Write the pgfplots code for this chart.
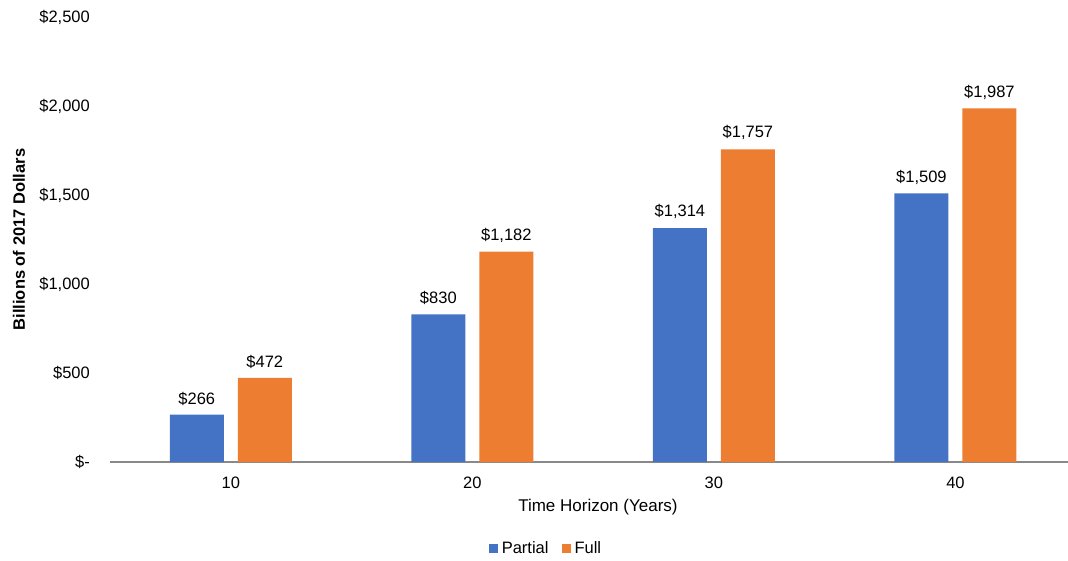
\documentclass[border=0pt]{standalone}
\usepackage{fontspec}
\setmainfont{Liberation Sans}
\usepackage{pgfplots}
\pgfplotsset{compat=1.18}

\definecolor{partialblue}{HTML}{4472C4}
\definecolor{fullorange}{HTML}{ED7D31}
\definecolor{axisgray}{RGB}{137,137,137}

\begin{document}
\fontsize{16.5pt}{19pt}\selectfont
\begin{tikzpicture}
\path[use as bounding box] (0pt,0pt) rectangle (1068pt,560pt);
\begin{axis}[
  at={(110pt,98pt)}, anchor=south west,
  scale only axis,
  width=958pt, height=445pt,
  clip=false,
  ybar=14pt, bar width=54pt,
  xmin=-0.5, xmax=3.466,
  ymin=0, ymax=2500,
  axis lines*=left,
  x axis line style={draw=axisgray, line width=1.3pt},
  y axis line style={draw=none},
  major tick length=0pt,
  xtick={0,1,2,3},
  xticklabels={10,20,30,40},
  xticklabel style={anchor=north, inner sep=0pt, yshift=-15pt},
  ytick={0,500,1000,1500,2000,2500},
  yticklabels={{\$-\hspace{8pt}},{\$500},{\$1,000},{\$1,500},{\$2,000},{\$2,500}},
  yticklabel style={anchor=east, inner sep=0pt, xshift=-20pt},
  ylabel={\bfseries Billions of 2017 Dollars},
  every axis y label/.style={at={(axis description cs:-0.095,0.5)}, rotate=90, anchor=center},
  /pgf/number format/.cd, fixed, precision=0, 1000 sep={,}, assume math mode=true,
  /pgfplots/.cd,
  nodes near coords={\$\pgfmathprintnumber{\pgfplotspointmeta}},
  nodes near coords style={anchor=south, inner sep=0pt, yshift=9pt, text=black},
  legend columns=2,
  legend style={at={(0.454,-0.195)}, anchor=center, draw=none, fill=none,
    /tikz/every even column/.append style={column sep=13pt},
    nodes={inner sep=0pt, text=black}},
  legend image code/.code={\fill[#1] (0pt,-4.5pt) rectangle (9pt,4.5pt);},
  legend cell align=left,
]
\addplot[fill=partialblue, draw=none] coordinates {(0,266) (1,830) (2,1314) (3,1509)};
\addplot[fill=fullorange, draw=none] coordinates {(0,472) (1,1182) (2,1757) (3,1987)};
\legend{\hspace{4pt}Partial,\hspace{4pt}Full}
\node[anchor=north, inner sep=0pt, font=\fontsize{17pt}{20pt}\selectfont] at (axis cs:1.52,0) [yshift=-37pt] {Time Horizon (Years)};
\end{axis}
\end{tikzpicture}
\end{document}
